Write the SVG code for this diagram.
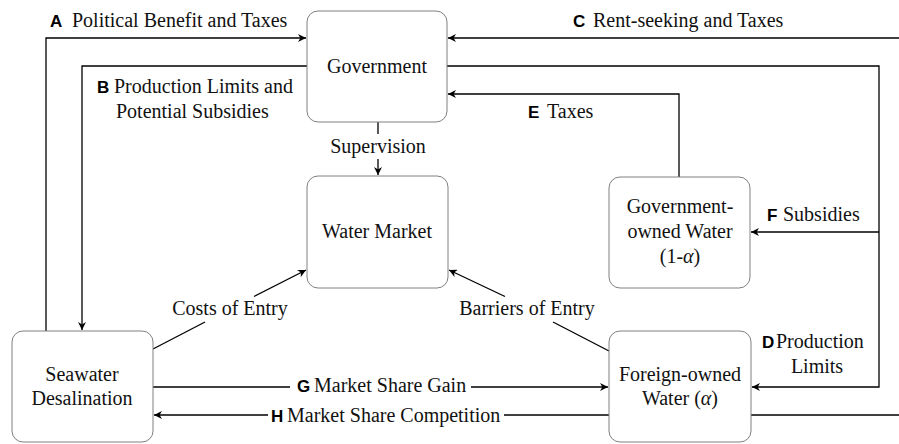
<svg xmlns="http://www.w3.org/2000/svg" width="899" height="444" viewBox="0 0 899 444">
<defs>
<marker id="ah" viewBox="0 0 10 10" refX="10" refY="5" markerWidth="8" markerHeight="8" markerUnits="userSpaceOnUse" orient="auto">
<path d="M0,0 L10,5 L0,10 L3,5 Z" fill="#000"/>
</marker>
</defs>
<style>
.box{fill:#fff;stroke:#808080;stroke-width:1}
.t{font-family:"Liberation Serif","Times New Roman",serif;font-size:20px;fill:#111}
.n{font-family:"Liberation Serif","Times New Roman",serif;font-size:20px;fill:#111;text-anchor:middle}
.k{font-family:"Liberation Sans",Arial,sans-serif;font-size:17px;font-weight:bold;fill:#000}
.c{fill:none;stroke:#000;stroke-width:1.3}
.a{marker-end:url(#ah)}
</style>
<rect width="899" height="444" fill="#fff"/>
<g id="connectors">
<polyline class="c a" points="46,331 46,38 306,38"/>
<polyline class="c a" points="307,66 82,66 82,330"/>
<polyline class="c a" points="899,38 448,38"/>
<polyline class="c a" points="447,66 879,66 879,387 752,387"/>
<polyline class="c a" points="879,232 751,232"/>
<polyline class="c a" points="679,177 679,94 448,94"/>
<line class="c" x1="378" y1="122" x2="378" y2="134"/>
<line class="c a" x1="378" y1="159" x2="378" y2="175"/>
<line class="c" x1="153" y1="349" x2="205" y2="322"/>
<line class="c a" x1="254" y1="296.5" x2="306" y2="270"/>
<line class="c" x1="609" y1="351" x2="553" y2="322"/>
<line class="c a" x1="505" y1="296.5" x2="449" y2="270"/>
<line class="c" x1="153" y1="387" x2="290" y2="387"/>
<line class="c a" x1="471" y1="387" x2="608" y2="387"/>
<line class="c" x1="609" y1="415" x2="504" y2="415"/>
<line class="c a" x1="268" y1="415" x2="154" y2="415"/>
<line class="c" x1="751" y1="415" x2="899" y2="415"/>
</g>
<g id="labels">
<text class="k" x="50" y="27">A</text><text class="t" x="72" y="27">Political Benefit and Taxes</text>
<text class="k" x="97" y="93">B</text><text class="t" x="114" y="93">Production Limits and</text>
<text class="t" x="116" y="118">Potential Subsidies</text>
<text class="k" x="573" y="27">C</text><text class="t" x="593" y="27">Rent-seeking and Taxes</text>
<text class="k" x="528" y="118">E</text><text class="t" x="547" y="118">Taxes</text>
<text class="k" x="767" y="221">F</text><text class="t" x="783" y="221">Subsidies</text>
<text class="k" x="762" y="348">D</text><text class="t" x="776" y="348">Production</text>
<text class="n" x="817" y="373">Limits</text>
<text class="k" x="297" y="392">G</text><text class="t" x="314" y="392">Market Share Gain</text>
<text class="k" x="271" y="422">H</text><text class="t" x="287" y="422">Market Share Competition</text>
<text class="n" x="378" y="153">Supervision</text>
<text class="n" x="230" y="315">Costs of Entry</text>
<text class="n" x="527" y="315">Barriers of Entry</text>
</g>
<g id="government">
<rect class="box" x="307" y="11" width="140" height="111" rx="11"/>
<text class="n" x="377" y="73">Government</text>
</g>
<g id="water-market">
<rect class="box" x="307" y="176" width="141" height="112" rx="11"/>
<text class="n" x="377" y="238">Water Market</text>
</g>
<g id="government-owned-water">
<rect class="box" x="609" y="177" width="141" height="111" rx="11"/>
<text class="n" x="680" y="213">Government-</text>
<text class="n" x="680" y="238">owned Water</text>
<text class="n" x="680" y="263">(1-<tspan font-style="italic">α</tspan>)</text>
</g>
<g id="seawater-desalination">
<rect class="box" x="12" y="331" width="141" height="111" rx="11"/>
<text class="n" x="82" y="381">Seawater</text>
<text class="n" x="82" y="405">Desalination</text>
</g>
<g id="foreign-owned-water">
<rect class="box" x="609" y="331" width="142" height="111" rx="11"/>
<text class="n" x="680" y="381">Foreign-owned</text>
<text class="n" x="680" y="405">Water (<tspan font-style="italic">α</tspan>)</text>
</g>
</svg>
